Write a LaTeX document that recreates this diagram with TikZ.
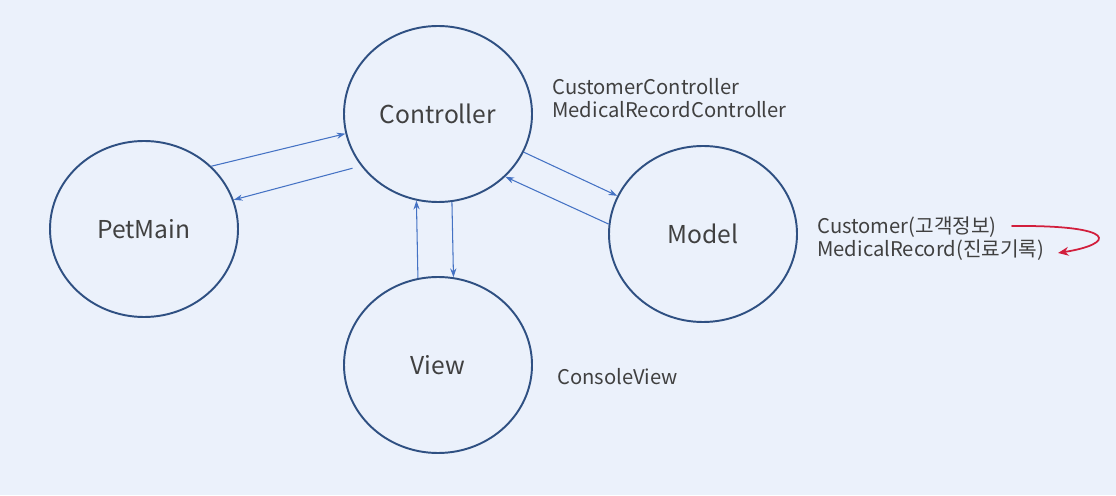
\documentclass[tikz,border=0pt]{standalone}
\usepackage{fontspec}
\setmainfont{Noto Sans CJK KR}
\usetikzlibrary{shapes.geometric,arrows.meta}
\definecolor{bgblue}{RGB}{235,241,251}
\definecolor{ringblue}{RGB}{47,80,130}
\definecolor{linkblue}{RGB}{68,114,196}
\definecolor{textgray}{RGB}{64,64,64}
\definecolor{notered}{RGB}{210,30,60}
\begin{document}
\begin{tikzpicture}[
    part/.style={ellipse, draw=ringblue, line width=1.1pt, minimum width=3.76cm, minimum height=3.52cm,
        inner sep=0pt, text=textgray, font=\fontsize{14}{16}\selectfont},
    note/.style={anchor=west, align=left, inner sep=0pt, text=textgray, font=\fontsize{11.5}{13}\selectfont},
    link/.style={draw=linkblue, line width=0.6pt, -{Stealth[length=5pt,width=3.5pt]}}
  ]
  \fill[bgblue] (0,0) rectangle (22.32,9.9);
  \useasboundingbox (0,0) rectangle (22.32,9.9);

  % the four parts
  \node[part] (ctrl)  at (8.76,7.62) {Controller};
  \node[part] (pet)   at (2.88,5.32) {PetMain};
  \node[part] (model) at (14.06,5.22) {Model};
  \node[part] (view)  at (8.76,2.60) {View};

  % notes beside them
  \node[note] (ctrlnote)  at (11.04,7.94) {CustomerController\\MedicalRecordController};
  \node[note] (viewnote)  at (11.14,2.36) {ConsoleView};
  \node[note] (modelnote) at (16.34,5.12) {Customer(고객정보)\\MedicalRecord(진료기록)};

  % links
  \draw[link] (pet.43) -- (ctrl.192);
  \draw[link, shorten <=5pt] (ctrl.214) -- (pet.18);
  \draw[link] (ctrl.336) -- (model.156);
  \draw[link] (model.174) -- (ctrl.317);
  \draw[link] (view.103.76) -- (ctrl.256.24);
  \draw[link] (ctrl.279.8) -- (view.80.2);

  % hand drawn mark
  \coordinate (markfrom) at (20.24,5.38);
  \coordinate (markto) at (21.16,4.84);
  \draw[notered, line width=1pt, line cap=round, -{Stealth[length=6pt,width=5pt]}]
    (markfrom) .. controls (22.4,5.40) and (22.3,5.02) .. (markto);
\end{tikzpicture}
\end{document}
